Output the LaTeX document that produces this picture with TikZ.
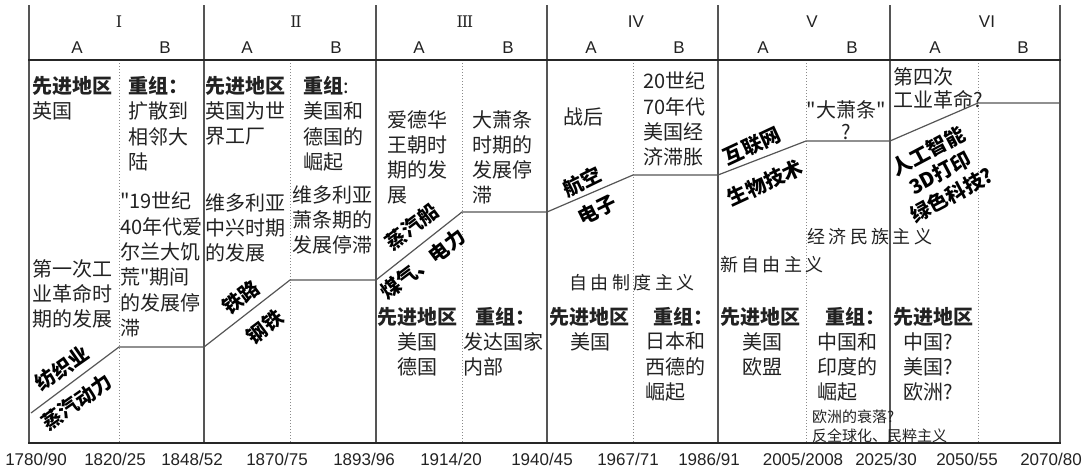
\documentclass[tikz,border=0pt]{standalone}
\usepackage{fontspec}
\setmainfont{Liberation Sans}
\newfontfamily\cjk{Noto Sans CJK SC}
\newfontfamily\rmn{DejaVu Serif}
\newcommand\gp{\hspace{3.4pt}}
\definecolor{txtc}{HTML}{222222}
\definecolor{linec}{HTML}{555555}
\definecolor{dotc}{HTML}{8A8A8A}
\begin{document}
\begin{tikzpicture}[x=1pt,y=-1pt,
  major/.style={draw=linec,line width=1.1pt},
  minor/.style={draw=dotc,line width=1pt,dotted},
  thick line/.style={draw=black!85,line width=2.4pt},
  stepline/.style={draw=linec,line width=1.2pt},
  hdr/.style={font=\fontsize{17}{17}\selectfont,inner sep=0,text=txtc},
  rom/.style={font=\rmn\fontsize{16}{16}\selectfont,inner sep=0,text=txtc},
  yr/.style={font=\fontsize{17}{17}\selectfont,inner sep=0,text=txtc},
  txt/.style={font=\cjk\fontsize{20}{25.3}\selectfont,inner sep=0,align=left,anchor=north west,text=txtc},
  ctxt/.style={txt,align=center,anchor=north},
  sptxt/.style={font=\cjk\fontsize{18}{20}\selectfont,inner sep=0,text=txtc},
  diag/.style={font=\cjk\bfseries\fontsize{20}{25}\selectfont,inner sep=0,text=black,align=center}
]
\useasboundingbox (0,0) rectangle (1091,471);
% grid lines
\foreach \x in {29,204,376,547,718,890,1060} \draw[major] (\x,5) -- (\x,443);
\foreach \x in {119,290,462,633,806,978} \draw[minor] (\x,60) -- (\x,443);
\draw[thick line] (28,60) -- (1061,60);
\draw[thick line] (28,443) -- (1061,443);
% header
\node[rom] (rI) at (119,22) {I};
\node[rom] (rII) at (296,22) {I\kern-1.2pt I};
\node[rom] (rIII) at (465,22) {I\kern-1.2pt I\kern-1.2pt I};
\node[hdr] (rIV) at (636,22) {IV};
\node[hdr] (rV) at (812,22) {V};
\node[hdr] (rVI) at (987,22) {VI};
\foreach \x/\l [count=\i] in {77/A,165/B,247/A,336/B,419/A,508/B,591/A,679/B,763/A,852/B,935/A,1023/B}
  \node[hdr] (h\i) at (\x,48) {\l};
% years
\foreach \x/\l [count=\i] in {36/1780\slash 90,115/1820\slash 25,192/1848\slash 52,277/1870\slash 75,364/1893\slash 96,451/1914\slash 20,542/1940\slash 45,628/1967\slash 71,709/1986\slash 91,803/2005\slash 2008,886/2025\slash 30,967/2050\slash 55,1051/2070\slash 80}
  \node[yr] (y\i) at (\x,459) {\l};
% step line
\coordinate (s0) at (31,413);
\coordinate (s1) at (119,347);
\coordinate (s2) at (204,347);
\coordinate (s3) at (290,280);
\coordinate (s4) at (376,280);
\coordinate (s5) at (462,212);
\coordinate (s6) at (547,212);
\coordinate (s7) at (633,175);
\coordinate (s8) at (718,175);
\coordinate (s9) at (806,141);
\coordinate (s10) at (890,141);
\coordinate (s11) at (978,103);
\coordinate (s12) at (1060,103);
\draw[stepline] (s0) -- (s1) -- (s2) -- (s3) -- (s4) -- (s5) -- (s6) -- (s7) -- (s8) -- (s9) -- (s10) -- (s11) -- (s12);
% Period I
\node[txt] (t1) at (32,76) {{\bfseries 先进地区}\\英国};
\node[txt] (t2) at (32,259) {第一次工\\业革命时\\期的发展};
\node[txt] (t3) at (128,76) {{\bfseries 重组：}\\扩散到\\相邻大\\陆};
\node[txt] (t4) at (120,192) {"19世纪\\40年代爱\\尔兰大饥\\荒"期间\\的发展停\\滞};
\node[diag,rotate=35] (d1) at (62,368) {纺织业};
\node[diag,rotate=35] (d2) at (77,402) {蒸汽动力};
% Period II
\node[txt] (t5) at (205,76) {{\bfseries 先进地区}\\英国为世\\界工厂};
\node[txt] (t6) at (205,193) {维多利亚\\中兴时期\\的发展};
\node[txt] (t7) at (303,76) {{\bfseries 重组}:\\美国和\\德国的\\崛起};
\node[txt] (t8) at (292,185) {维多利亚\\萧条期的\\发展停滞};
\node[diag,rotate=37] (d3) at (241,297) {铁路};
\node[diag,rotate=37] (d4) at (265,327) {钢铁};
% Period III
\node[txt] (t9) at (387,110) {爱德华\\王朝时\\期的发\\展};
\node[txt] (t10) at (377,307) {\bfseries 先进地区};
\node[ctxt] (t11) at (417,332) {美国\\德国};
\node[txt] (t12) at (472,110) {大萧条\\时期的\\发展停\\滞};
\node[txt] (t13) at (475,307) {\bfseries 重组：};
\node[txt] (t14) at (463,332) {发达国家\\内部};
\node[diag,rotate=37] (d5) at (412,227) {蒸汽船};
\node[diag,rotate=37] (d6) at (423,264) {煤气、电力};
% Period IV
\node[txt] (t15) at (563,108) {战后};
\node[txt] (t16) at (549,307) {\bfseries 先进地区};
\node[ctxt] (t17) at (590,332) {美国};
\node[txt] (t18) at (643,72) {20世纪\\70年代\\美国经\\济滞胀};
\node[txt] (t19) at (653,307) {\bfseries 重组：};
\node[txt] (t20) at (645,332) {日本和\\西德的\\崛起};
\node[diag,rotate=26] (d7) at (582,182) {航空};
\node[diag,rotate=26] (d8) at (597,210) {电子};
\node[sptxt] (sp1) at (632,283) {自\gp 由\gp 制\gp 度\gp 主\gp 义};
% Period V
\node[sptxt,anchor=west] (sp2) at (720,265) {新\gp 自\gp 由\gp 主\gp 义};
\node[sptxt,anchor=west] (sp3) at (807,237) {经\gp 济\gp 民\gp 族\gp 主\gp 义};
\node[txt] (t21) at (720,307) {\bfseries 先进地区};
\node[ctxt] (t22) at (762,332) {美国\\欧盟};
\node[ctxt,font=\cjk\fontsize{20}{22}\selectfont] (t23) at (846,100) {"大萧条"\\?};
\node[txt] (t24) at (825,307) {\bfseries 重组：};
\node[txt] (t25) at (817,332) {中国和\\印度的\\崛起};
\node[txt,font=\cjk\fontsize{15}{19}\selectfont] (t26) at (812,410) {欧洲的衰落?\\反全球化、民粹主义};
\node[diag,rotate=25] (d9) at (752,146) {互联网};
\node[diag,rotate=25] (d10) at (765,183) {生物技术};
% Period VI
\node[txt,font=\cjk\fontsize{20}{23}\selectfont] (t27) at (893,67) {第四次\\工业革命?};
\node[txt] (t28) at (893,307) {\bfseries 先进地区};
\node[txt] (t29) at (903,332) {中国?\\美国?\\欧洲?};
\node[diag,rotate=28] (d11) at (940,173) {人工智能\\3D打印\\绿色科技?};
\end{tikzpicture}
\end{document}
